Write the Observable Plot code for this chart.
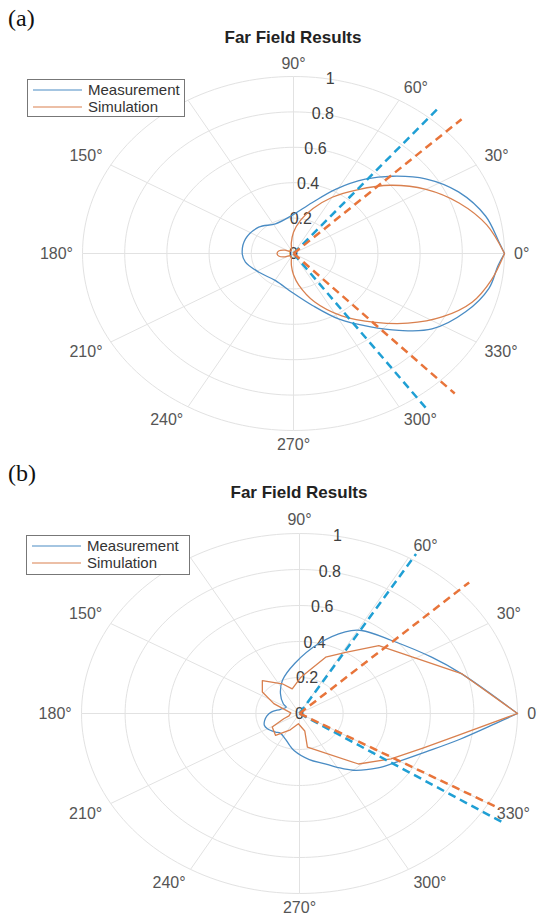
<!DOCTYPE html>
<html><head><meta charset="utf-8">
<script src="https://cdn.jsdelivr.net/npm/d3@7"></script>
<script src="https://cdn.jsdelivr.net/npm/@observablehq/plot@0.6"></script>
<style>
body{margin:0;background:#fff;width:537px;height:919px;overflow:hidden;font-family:"Liberation Sans",Arial,sans-serif}
.panel{position:relative;width:537px;overflow:hidden}
.panel svg.plot{position:absolute;left:0;top:0}
.lab{position:absolute;font-family:"Liberation Serif","Times New Roman",serif;font-size:24px;line-height:1;color:#111;white-space:nowrap}
.title{position:absolute;font-weight:bold;font-size:17px;line-height:1;color:#222;transform:translateX(-50%);white-space:nowrap}
.legend{position:absolute;background:#fff;border:1px solid #777;box-sizing:border-box}
.legend svg{display:block}
</style></head><body>
<div id="pa" class="panel" style="height:455px"></div>
<div id="pb" class="panel" style="height:464px"></div>
<script>
// ---- tick labels ----
const thetaTicks = [0,30,60,90,120,150,180,210,240,270,300,330];
const thetaLabels = ["0°","30°","60°","90°","120°","150°","180°","210°","240°","270°","300°","330°"];
const rTicks = [0,0.2,0.4,0.6,0.8,1];
const rLabels = ["0","0.2","0.4","0.6","0.8","1"];
const seriesNames = ["Measurement","Simulation"];

// ---- panel (a) data: angle (deg), normalised magnitude ----
const measA_theta = [0,4,13,24,34,43,51,61,73,92,117,138,160,180,192,213,241,268,287,300,311,319,327,338,348,356,360];
const measA_r     = [1.0,0.975,0.935,0.856,0.755,0.64,0.54,0.416,0.30,0.215,0.188,0.222,0.242,0.243,0.233,0.195,0.175,0.219,0.307,0.427,0.548,0.662,0.783,0.88,0.947,0.972,1.0];
const simA_theta  = [0,10,20,30,40,50,60,70,80,90,100,120,140,155,167,180,193,205,220,240,255,262,270,278,290,303,315,324,333,342,351,360];
const simA_r      = [1.0,0.93,0.835,0.725,0.60,0.47,0.367,0.27,0.19,0.12,0.06,0.02,0.02,0.045,0.07,0.078,0.07,0.045,0.02,0.02,0.04,0.07,0.12,0.18,0.29,0.42,0.55,0.67,0.79,0.89,0.95,1.0];
const beamA_meas_theta = [50.1,305.7];
const beamA_meas_len   = [1.07,1.09];
const beamA_sim_theta  = [43.6,314];
const beamA_sim_len    = [1.10,1.10];

// ---- panel (b) data ----
const measB_theta = [0,16.5,27.3,43.8,58.3,65.2,77.4,94.3,113,128.6,144,150,165,176.6,185,194,202,210,223,231,245,255,263,280,292,300,308,320,328,340,349,356.4,360];
const measB_r     = [1.0,0.776,0.682,0.586,0.542,0.50,0.397,0.28,0.20,0.14,0.092,0.07,0.09,0.13,0.15,0.165,0.174,0.17,0.151,0.14,0.155,0.18,0.207,0.26,0.30,0.345,0.40,0.47,0.516,0.62,0.75,0.90,1.0];
const simB_theta  = [0,16.4,46,58,69,88.6,103.7,115.6,133,145,155,175,195,202,211,228,245,265,284,281,314,329,341.5,350.4,360];
const simB_r      = [1.0,0.778,0.524,0.40,0.335,0.20,0.141,0.183,0.25,0.208,0.13,0.04,0.05,0.078,0.146,0.164,0.10,0.057,0.10,0.19,0.39,0.49,0.60,0.734,1.0];
const beamB_meas_theta = [58.9,327];
const beamB_meas_len   = [1.035,1.107];
const beamB_sim_theta  = [43.1,330.1];
const beamB_sim_len    = [1.066,1.062];

const C_MEAS = "#4a8cc4", C_SIM = "#d9804f", C_MEAS_D = "#1f9fd4", C_SIM_D = "#e8743a", GRID = "#e2e2e2";
const rad = d => d * Math.PI / 180;
const polar = (th, r) => th.map((t, i) => ({x: r[i] * Math.cos(rad(t)), y: r[i] * Math.sin(rad(t))}));
const beams = (th, len) => th.map((t, i) => ({x1: 0, y1: 0, x2: len[i] * Math.cos(rad(t)), y2: len[i] * Math.sin(rad(t))}));

function thetaLabelMarks() {
  const R = 1.045;
  return thetaTicks.map((t, i) => {
    const c = Math.cos(rad(t)), s = Math.sin(rad(t));
    const textAnchor = c > 0.01 ? "start" : c < -0.01 ? "end" : "middle";
    const lineAnchor = s > 0.01 ? "bottom" : s < -0.01 ? "top" : "middle";
    return Plot.text([{x: R * c, y: R * s, label: thetaLabels[i]}],
      {x: "x", y: "y", text: "label", fill: "#555", fontSize: 16, textAnchor, lineAnchor});
  });
}

function panel(opt) {
  const rings = [];
  rTicks.filter(r => r > 0).forEach(r => d3.range(0, 361, 2).forEach(a => rings.push({r, x: r * Math.cos(rad(a)), y: r * Math.sin(rad(a))})));
  const spokes = beams(thetaTicks, thetaTicks.map(() => 1));
  const rLab = rTicks.map((r, i) => ({x: r * Math.cos(rad(80)), y: r * Math.sin(rad(80)), label: rLabels[i]}));
  const svg = Plot.plot({
    width: 537, height: opt.h, margin: 0,
    x: {domain: [-1, 1], range: [opt.cx - opt.rx, opt.cx + opt.rx], axis: null},
    y: {domain: [-1, 1], range: [opt.cy + opt.ry, opt.cy - opt.ry], axis: null},
    style: {fontFamily: "'Liberation Sans', Arial, sans-serif", background: "transparent"},
    marks: [
      Plot.line(rings, {x: "x", y: "y", z: "r", stroke: GRID, strokeWidth: 1}),
      Plot.link(spokes, {x1: "x1", y1: "y1", x2: "x2", y2: "y2", stroke: GRID, strokeWidth: 1}),
      ...thetaLabelMarks(),
      Plot.text(rLab, {x: "x", y: "y", text: "label", fill: "#404040", fontSize: 16}),
      Plot.line(polar(opt.measT, opt.measR), {x: "x", y: "y", stroke: C_MEAS, strokeWidth: 1.3, curve: "catmull-rom"}),
      Plot.line(polar(opt.simT, opt.simR), {x: "x", y: "y", stroke: C_SIM, strokeWidth: 1.3, curve: opt.simCurve}),
      Plot.link(beams(opt.bmT, opt.bmL), {x1: "x1", y1: "y1", x2: "x2", y2: "y2", stroke: C_MEAS_D, strokeWidth: 2.5, strokeDasharray: "8,5"}),
      Plot.link(beams(opt.bsT, opt.bsL), {x1: "x1", y1: "y1", x2: "x2", y2: "y2", stroke: C_SIM_D, strokeWidth: 2.5, strokeDasharray: "8,5"})
    ]
  });
  const host = document.getElementById(opt.id);
  host.appendChild(svg);
  const lab = document.createElement("div");
  lab.className = "lab"; lab.textContent = opt.label;
  lab.style.left = "8px"; lab.style.top = opt.labTop + "px";
  host.appendChild(lab);
  const ti = document.createElement("div");
  ti.className = "title"; ti.textContent = "Far Field Results";
  ti.style.left = opt.cx + "px"; ti.style.top = opt.titleTop + "px";
  host.appendChild(ti);
  const lg = document.createElement("div");
  lg.className = "legend";
  const L = opt.leg;
  lg.style.left = L.x + "px"; lg.style.top = L.y + "px"; lg.style.width = L.w + "px"; lg.style.height = L.h + "px";
  lg.innerHTML = `<svg width="${L.w - 2}" height="${L.h - 2}" font-family="Liberation Sans, Arial, sans-serif" font-size="15" fill="#333">
    <line x1="5" x2="54" y1="${L.l1}" y2="${L.l1}" stroke="${C_MEAS}" stroke-width="1.2"/>
    <text x="60" y="${L.l1 + 5}">${seriesNames[0]}</text>
    <line x1="5" x2="54" y1="${L.l2}" y2="${L.l2}" stroke="${C_SIM}" stroke-width="1.2"/>
    <text x="60" y="${L.l2 + 5}">${seriesNames[1]}</text></svg>`;
  host.appendChild(lg);
}

panel({id: "pa", h: 455, cx: 293, cy: 253, rx: 211, ry: 177, label: "(a)", labTop: 6, titleTop: 29,
  measT: measA_theta, measR: measA_r, simT: simA_theta, simR: simA_r, simCurve: "catmull-rom",
  bmT: beamA_meas_theta, bmL: beamA_meas_len, bsT: beamA_sim_theta, bsL: beamA_sim_len,
  leg: {x: 27, y: 79, w: 158, h: 38, l1: 10, l2: 27}});
panel({id: "pb", h: 464, cx: 299, cy: 258, rx: 218, ry: 180, label: "(b)", labTop: 6, titleTop: 29,
  measT: measB_theta, measR: measB_r, simT: simB_theta, simR: simB_r, simCurve: "linear",
  bmT: beamB_meas_theta, bmL: beamB_meas_len, bsT: beamB_sim_theta, bsL: beamB_sim_len,
  leg: {x: 26, y: 80, w: 164, h: 40, l1: 10, l2: 27}});
</script>
</body></html>
